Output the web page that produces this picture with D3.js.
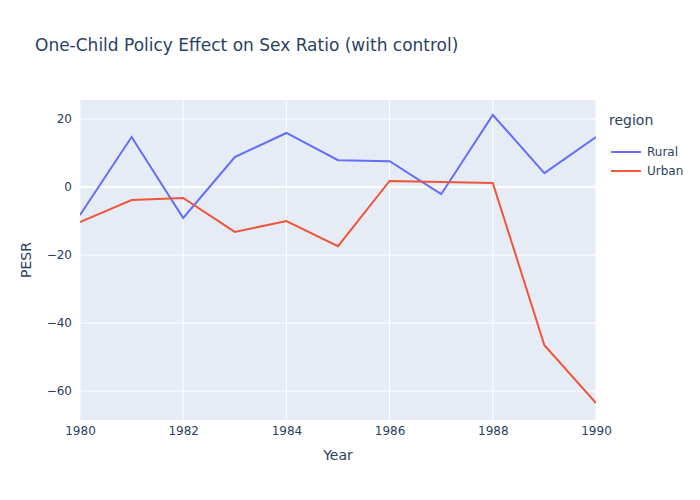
<!DOCTYPE html>
<html><head><meta charset="utf-8">
<script src="https://cdn.jsdelivr.net/npm/d3@7"></script>
<style>body{margin:0}text{font-family:"DejaVu Sans",Verdana,sans-serif}</style>
</head><body><svg id="c" width="700" height="500"></svg>
<script>
const years=[1980,1981,1982,1983,1984,1985,1986,1987,1988,1989,1990];
const rural=[-8.2,14.7,-9.1,8.8,15.9,7.9,7.6,-2.1,21.2,4.1,14.7];
const urban=[-10.3,-3.8,-3.2,-13.2,-10,-17.4,1.8,1.5,1.2,-46.5,-63.5];
const xTicks=[1980,1982,1984,1986,1988,1990];
const yTicks=[-60,-40,-20,0,20];
const series=[{name:"Rural",vals:rural,color:"#636efa"},{name:"Urban",vals:urban,color:"#EF553B"}];
const svg=d3.select("#c");
svg.append("rect").attr("width",700).attr("height",500).attr("fill","#fff");
const L=80,R=596,T=100,B=420;
const x=d3.scaleLinear().domain([1980,1990]).range([L,R]);
const y=d3.scaleLinear().domain([-68.5,25.6]).range([B,T]);
svg.append("rect").attr("x",L).attr("y",T).attr("width",R-L).attr("height",B-T).attr("fill","#E5ECF6");
const xa=svg.append("g").attr("transform",`translate(0,${B})`).call(d3.axisBottom(x).tickValues(xTicks).tickFormat(d3.format("d")).tickSize(0).tickPadding(6));
const ya=svg.append("g").attr("transform",`translate(${L},0)`).call(d3.axisLeft(y).tickValues(yTicks).tickFormat(d=>d<0?"−"+Math.abs(d):d).tickSize(0).tickPadding(8));
[xa,ya].forEach(a=>{a.select(".domain").remove();a.selectAll("text").attr("fill","#2a3f5f").attr("font-size",12);});
svg.append("g").selectAll("line").data(xTicks).join("line").attr("x1",x).attr("x2",x).attr("y1",T).attr("y2",B).attr("stroke","#fff");
svg.append("g").selectAll("line").data(yTicks).join("line").attr("y1",y).attr("y2",y).attr("x1",L).attr("x2",R).attr("stroke","#fff").attr("stroke-width",d=>d===0?2:1);
const line=d3.line().x((d,i)=>x(years[i])).y(d=>y(d));
svg.append("clipPath").attr("id","cp").append("rect").attr("x",L).attr("y",T).attr("width",R-L).attr("height",B-T);
series.forEach(s=>svg.append("path").attr("d",line(s.vals)).attr("fill","none").attr("stroke",s.color).attr("stroke-width",2).attr("clip-path","url(#cp)"));
svg.append("text").attr("x",35).attr("y",51).attr("font-size",17).attr("fill","#2a3f5f").text("One-Child Policy Effect on Sex Ratio (with control)");
svg.append("text").attr("x",(L+R)/2).attr("y",460).attr("text-anchor","middle").attr("font-size",14).attr("fill","#2a3f5f").text("Year");
svg.append("text").attr("transform",`translate(31,${(T+B)/2}) rotate(-90)`).attr("text-anchor","middle").attr("font-size",14).attr("fill","#2a3f5f").text("PESR");
svg.append("text").attr("x",609).attr("y",125).attr("font-size",14).attr("fill","#2a3f5f").text("region");
series.forEach((s,i)=>{const yy=152+i*19;
svg.append("line").attr("x1",611).attr("x2",641).attr("y1",yy).attr("y2",yy).attr("stroke",s.color).attr("stroke-width",2);
svg.append("text").attr("x",647).attr("y",yy+4).attr("font-size",12).attr("fill","#2a3f5f").text(s.name);});
</script></body></html>
